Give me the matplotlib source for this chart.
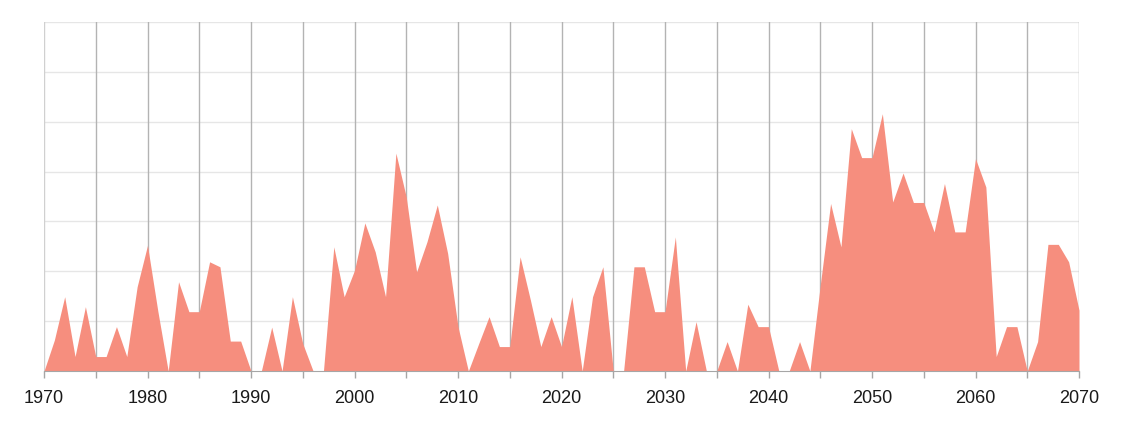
import numpy as np
import matplotlib
matplotlib.use("Agg")
import matplotlib.pyplot as plt

years = list(range(1970, 2071))
values = [
    0, 0.62, 1.49, 0.29, 1.29, 0.29, 0.29, 0.89, 0.29, 1.69,   # 1970-1979
    2.52, 1.2, 0, 1.79, 1.19, 1.19, 2.19, 2.09, 0.6, 0.6,      # 1980-1989
    0, 0, 0.88, 0, 1.49, 0.55, 0, 0, 2.49, 1.49,               # 1990-1999
    2.02, 2.97, 2.39, 1.49, 4.37, 3.49, 1.99, 2.59, 3.33, 2.36, # 2000-2009
    0.89, 0, 0.55, 1.09, 0.49, 0.49, 2.29, 1.42, 0.49, 1.09,   # 2010-2019
    0.49, 1.49, 0, 1.49, 2.09, 0, 0, 2.09, 2.09, 1.19,         # 2020-2029
    1.19, 2.69, 0, 0.99, 0, 0, 0.59, 0, 1.34, 0.89,            # 2030-2039
    0.89, 0, 0, 0.59, 0, 1.72, 3.36, 2.49, 4.86, 4.28,         # 2040-2049
    4.28, 5.16, 3.39, 3.97, 3.38, 3.38, 2.79, 3.76, 2.79, 2.79, # 2050-2059
    4.26, 3.69, 0.29, 0.89, 0.89, 0, 0.59, 2.54, 2.54, 2.19,   # 2060-2069
    1.22,                                                      # 2070
]
xticks = list(range(1970, 2071, 5))
xlabels = [str(y) if y % 10 == 0 else "" for y in xticks]

fig = plt.figure(figsize=(11.24, 4.23), dpi=100)
ax = fig.add_axes([44 / 1124, 1 - 371 / 423, (1079 - 44) / 1124, (371 - 22) / 423])

ax.fill_between(years, values, 0, color="#F68E7E", linewidth=0, zorder=2)

ax.set_xlim(1970, 2070)
ax.set_ylim(0, 7)
ax.set_yticks(range(0, 8))
ax.set_yticklabels([])
ax.tick_params(axis="y", length=0)
ax.set_xticks(xticks)
ax.set_xticklabels(xlabels, fontsize=13, family="Liberation Sans", color="#1a1a1a")
ax.tick_params(axis="x", length=5, width=1, color="#a6a6a6", pad=9)

for y in range(1, 8):
    ax.axhline(y, color="#e6e6e6", linewidth=1, zorder=0)
for x in xticks:
    ax.axvline(x, color="#b3b3b3" if x != 1970 else "#d0d0d0", linewidth=1, zorder=1)

for side in ["top", "left", "right"]:
    ax.spines[side].set_visible(False)
ax.spines["bottom"].set_color("#a6a6a6")
ax.spines["bottom"].set_zorder(3)

fig.savefig("out.png", dpi=100)
